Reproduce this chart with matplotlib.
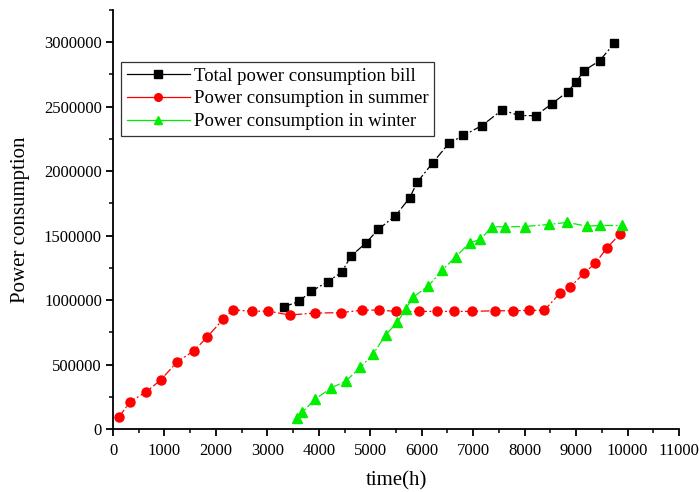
import numpy as np
import matplotlib
matplotlib.use('Agg')
import matplotlib.pyplot as plt
from matplotlib.ticker import MultipleLocator

plt.rcParams['font.family'] = ['Liberation Serif', 'DejaVu Serif']

#DATA

# total power consumption bill
total_t = [3314, 3612, 3851, 4169, 4447, 4621, 4919, 5152, 5489, 5767, 5909,
           6214, 6524, 6809, 7171, 7567, 7883, 8214, 8530, 8835, 9003, 9146,
           9456, 9741]
total_p = [946000, 990000, 1067000, 1142000, 1217000, 1339000, 1444000,
           1547000, 1654000, 1793000, 1912000, 2064000, 2214000, 2276000,
           2353000, 2475000, 2431000, 2429000, 2522000, 2615000, 2690000,
           2777000, 2855000, 2990000]

# summer
summer_t = [116, 330, 647, 926, 1237, 1573, 1825, 2136, 2330, 2699, 3010,
            3430, 3922, 4427, 4848, 5165, 5508, 5948, 6297, 6634, 6977, 7423,
            7773, 8078, 8382, 8693, 8887, 9152, 9373, 9592, 9845]
summer_p = [93000, 211000, 289000, 380000, 517000, 607000, 711000, 850000,
            925000, 912000, 915000, 884000, 899000, 902000, 922000, 922000,
            912000, 912000, 912000, 912000, 912000, 917000, 917000, 920000,
            920000, 1057000, 1101000, 1209000, 1284000, 1401000, 1509000]

# winter
winter_t = [3567, 3676, 3928, 4246, 4524, 4809, 5055, 5301, 5528, 5689, 5831,
            6130, 6402, 6660, 6932, 7140, 7365, 7612, 8000, 8466, 8829, 9204,
            9462, 9883]
winter_p = [83000, 129000, 232000, 320000, 372000, 478000, 581000, 731000,
            829000, 933000, 1021000, 1111000, 1233000, 1336000, 1444000,
            1470000, 1568000, 1568000, 1570000, 1586000, 1602000, 1573000,
            1578000, 1578000]

fig = plt.figure(figsize=(6.99, 4.92), dpi=100)
ax = fig.add_axes([0.1617, 0.128, 0.8097, 0.852])

dashdot = (0, (7, 2, 1.5, 2))
ax.plot(total_t, total_p, color='black', linestyle=dashdot, linewidth=0.9,
        marker='s', markersize=6, label='Total power consumption bill')
ax.plot(summer_t, summer_p, color='red', linestyle=dashdot, linewidth=0.9,
        marker='o', markersize=6.5, label='Power consumption in summer')
ax.plot(winter_t, winter_p, color='#00ee00', linestyle=dashdot, linewidth=0.9,
        marker='^', markersize=7, label='Power consumption in winter')

ax.set_xlim(0, 11000)
ax.set_ylim(0, 3250000)
ax.xaxis.set_major_locator(MultipleLocator(1000))
ax.xaxis.set_minor_locator(MultipleLocator(500))
ax.yaxis.set_major_locator(MultipleLocator(500000))
ax.yaxis.set_minor_locator(MultipleLocator(250000))
ax.ticklabel_format(style='plain')

for s in ['top', 'right']:
    ax.spines[s].set_visible(False)
for s in ['left', 'bottom']:
    ax.spines[s].set_linewidth(1.3)
ax.tick_params(which='major', direction='out', length=5, width=1.3,
               labelsize=12, pad=3)
ax.tick_params(axis='x', which='major', pad=5)
ax.tick_params(which='minor', direction='out', length=3, width=1.1)

ax.set_xlabel('time(h)', fontsize=15, labelpad=9)
ax.set_ylabel('Power consumption', fontsize=15, labelpad=10)

leg = ax.legend(loc='upper left', bbox_to_anchor=(0.014, 0.876), fontsize=13.5,
                frameon=True, fancybox=False, edgecolor='black',
                handlelength=3.4, handletextpad=0.2, borderpad=0.3,
                labelspacing=0.3, borderaxespad=0)
leg.get_frame().set_linewidth(0.9)
for h in leg.get_lines():
    h.set_linestyle('-')
    h.set_markersize(5.5)

fig.savefig('out.png', dpi=100)
